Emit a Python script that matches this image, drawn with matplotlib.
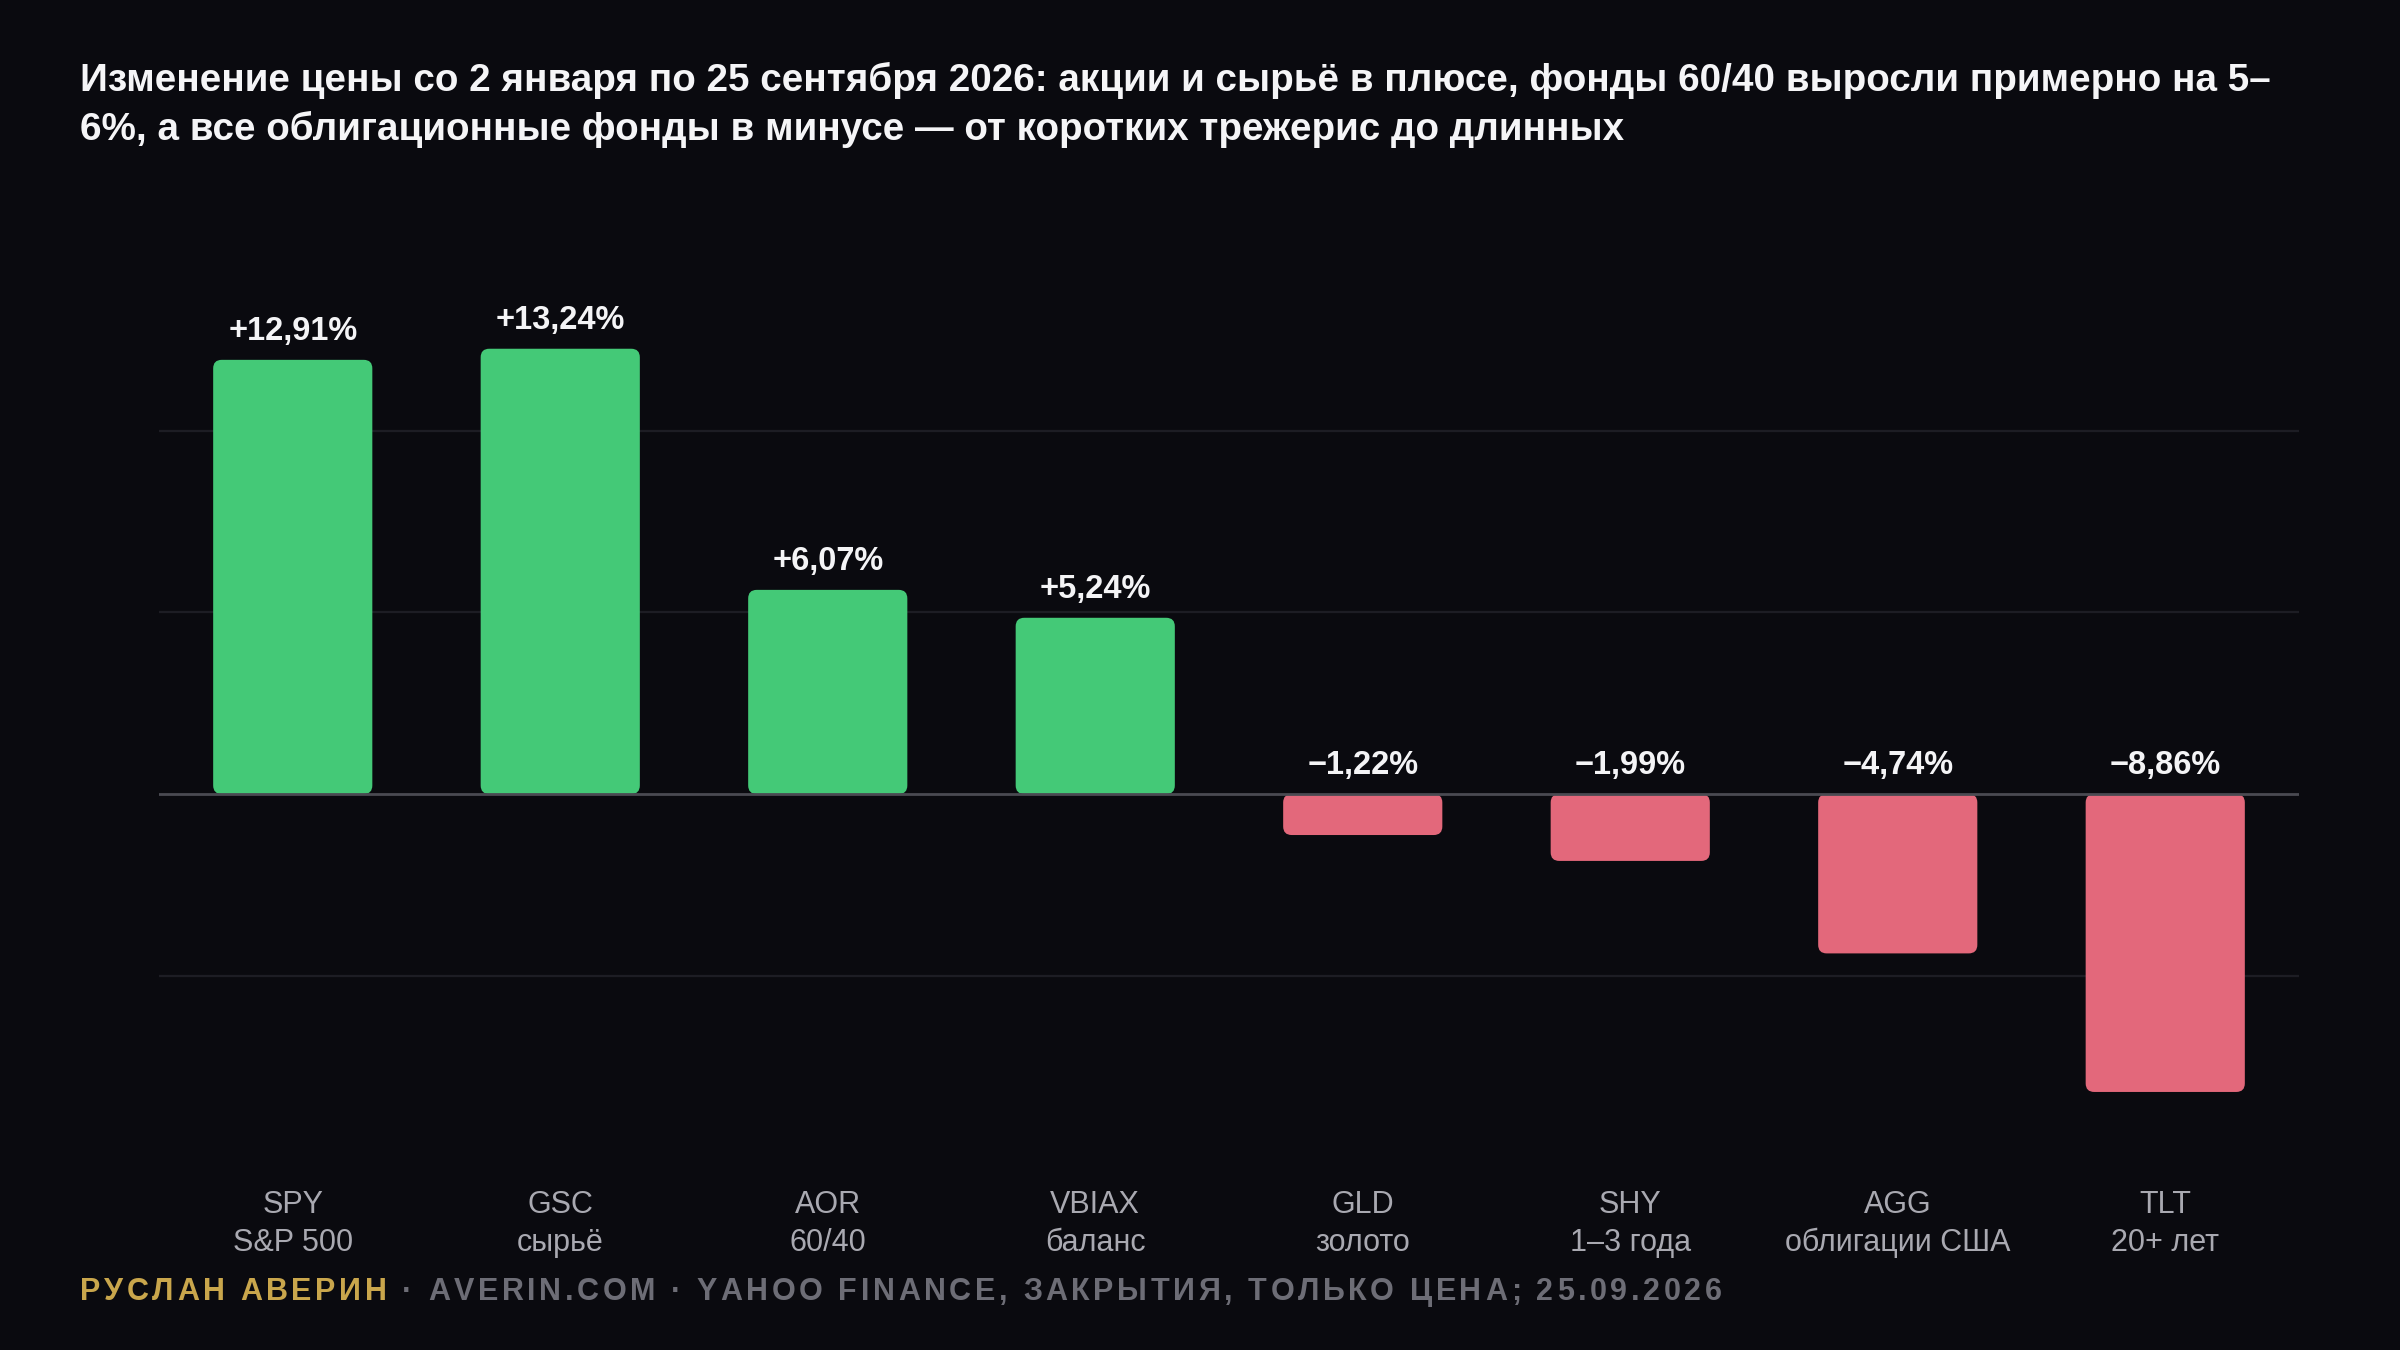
import matplotlib
matplotlib.use("Agg")
import matplotlib.pyplot as plt
from matplotlib.patches import FancyBboxPatch
from matplotlib.transforms import blended_transform_factory

# data
tickers = ["SPY", "GSC", "AOR", "VBIAX", "GLD", "SHY", "AGG", "TLT"]
names = ["S&P 500", "сырьё", "60/40", "баланс", "золото", "1–3 года", "облигации США", "20+ лет"]
changes = [12.91, 13.24, 6.07, 5.24, -1.22, -1.99, -4.74, -8.86]
grid_levels = [-5.4, 5.4, 10.8]

title_lines = [
    "Изменение цены со 2 января по 25 сентября 2026: акции и сырьё в плюсе, фонды 60/40 выросли примерно на 5–",
    "6%, а все облигационные фонды в минусе — от коротких трежерис до длинных",
]
footer_author = "РУСЛАН АВЕРИН"
footer_rest = " · AVERIN.COM · YAHOO FINANCE, ЗАКРЫТИЯ, ТОЛЬКО ЦЕНА; 25.09.2026"

BG = "#0a0a0f"
GREEN = "#44c977"
RED = "#e3687b"
FONT = ["Liberation Sans", "DejaVu Sans"]

W, H, DPI = 2400, 1350, 100
plt.rcParams["font.family"] = FONT

fig = plt.figure(figsize=(W / DPI, H / DPI), dpi=DPI, facecolor=BG)

# axes placed so zero sits at y=794px and 1% = 33.6px
y_lo, y_hi = -12.0, 15.0
px_per_unit = 33.63
zero_px = 794
top_px = zero_px - y_hi * px_per_unit
bot_px = zero_px - y_lo * px_per_unit
ax = fig.add_axes([159 / W, 1 - bot_px / H, 2140 / W, (bot_px - top_px) / H])
ax.set_facecolor(BG)
ax.set_xlim(-0.5, len(tickers) - 0.5)
ax.set_ylim(y_lo, y_hi)
for s in ax.spines.values():
    s.set_visible(False)
ax.set_xticks([])
ax.set_yticks([])

for g in grid_levels:
    ax.axhline(g, color="#1d1d24", lw=1.6, zorder=0)
ax.axhline(0, color="#4a4a52", lw=2.0, zorder=3)

colors = [GREEN if v >= 0 else RED for v in changes]
bars = ax.bar(range(len(changes)), changes, width=0.595, color=colors)

# swap plain bars for rounded ones
x_unit = 2140 / len(tickers)
aspect = x_unit / px_per_unit
for b in bars:
    x, y = b.get_x(), b.get_y()
    w, h = b.get_width(), b.get_height()
    if h < 0:
        y, h = y + h, -h
    p = FancyBboxPatch((x, y), w, h, boxstyle="round,pad=0,rounding_size=0.032",
                       mutation_aspect=aspect, fc=b.get_facecolor(), ec="none", zorder=2)
    ax.add_patch(p)
    b.remove()

for i, v in enumerate(changes):
    label = f"{v:+.2f}%".replace(".", ",").replace("-", "−")
    ax.annotate(label, (i, max(v, 0)), xytext=(0, 20), textcoords="offset pixels",
                ha="center", va="baseline", color="#f4f4f6", fontsize=23.5,
                fontweight="bold")

tr = blended_transform_factory(ax.transData, fig.transFigure)
for i, (t, n) in enumerate(zip(tickers, names)):
    ax.text(i, 1 - 1213 / H, t, transform=tr, ha="center", va="baseline",
            color="#a9a9b1", fontsize=22)
    ax.text(i, 1 - 1251 / H, n, transform=tr, ha="center", va="baseline",
            color="#a9a9b1", fontsize=22)

# title
fig.text(80 / W, 1 - 91 / H, title_lines[0], ha="left", va="baseline",
         color="#f5f5f7", fontsize=27.8, fontweight="bold")
fig.text(80 / W, 1 - 140 / H, title_lines[1], ha="left", va="baseline",
         color="#f5f5f7", fontsize=27.8, fontweight="bold")

# footer with letter spacing
renderer = fig.canvas.get_renderer()


def tracked(x_px, y_px, s, color, size, track):
    for ch in s:
        if ch == " ":
            x_px += 0.278 * size * DPI / 72 + track
            continue
        t = fig.text(x_px / W, 1 - y_px / H, ch, ha="left", va="baseline",
                     color=color, fontsize=size, fontweight="bold")
        x_px += t.get_window_extent(renderer).width + track
    return x_px


fx = tracked(80, 1300, footer_author, "#c9a64c", 22, 3.6)
tracked(fx, 1300, footer_rest, "#6d6d76", 22, 3.6)

fig.savefig("out.png", dpi=DPI, facecolor=BG)
